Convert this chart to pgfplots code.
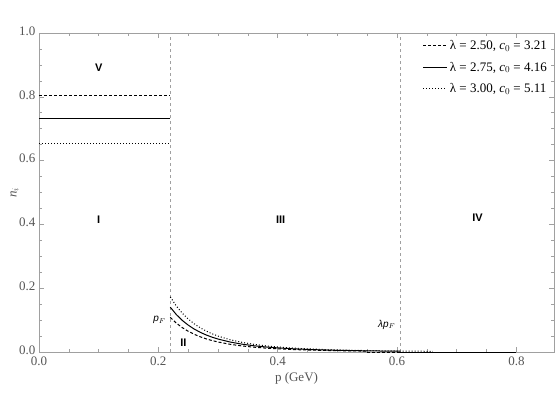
\documentclass[border=0pt]{standalone}
\usepackage{pgfplots}
\pgfplotsset{compat=1.18}
\usepackage{fontspec}
\setmainfont{Liberation Serif}
\newfontfamily\sfreg{Liberation Sans}
\definecolor{framegray}{HTML}{A0A0A0}
\definecolor{labgray}{HTML}{555555}
\begin{document}
\begin{tikzpicture}
\path[use as bounding box] (-39pt,-65pt) rectangle (517pt,352pt);
\begin{axis}[
  at={(0pt,0pt)}, anchor=south west,
  width=515pt, height=319pt, scale only axis,
  xmin=0, xmax=0.863, ymin=0, ymax=1,
  xtick={0,0.2,0.4,0.6,0.8}, ytick={0,0.2,0.4,0.6,0.8,1.0},
  minor tick num=3,
  tick align=inside,
  major tick length=5pt, minor tick length=3pt,
  every tick/.style={framegray, line width=0.5pt},
  axis line style={framegray, line width=0.7pt},
  xticklabel style={yshift=-1.5pt, /pgf/number format/.cd, fixed, fixed zerofill, precision=1},
  yticklabel style={yshift=2pt, /pgf/number format/.cd, fixed, fixed zerofill, precision=1},
  /pgf/number format/assume math mode=true,
  ticklabel style={font=\fontsize{13}{15}\selectfont, text=labgray},
  xlabel={p (GeV)}, ylabel={\textit{n}$_i$},
  xlabel style={font=\fontsize{13}{15}\selectfont, text=labgray, yshift=0pt},
  ylabel style={font=\fontsize{13}{15}\selectfont, text=labgray, yshift=-6pt},
  legend style={at={(1,1)}, anchor=north east, draw=none, fill=none,
    font=\fontsize{13}{15}\selectfont, row sep=7pt, xshift=-2pt, yshift=-3pt},
  legend cell align=left,
  legend image code/.code={\draw[#1] (0pt,0pt) -- (24pt,0pt);},
]
% vertical reference lines
\addplot[framegray, dashed, line width=0.6pt, forget plot] coordinates {(0.22,0) (0.22,1)};
\addplot[framegray, dashed, line width=0.6pt, forget plot] coordinates {(0.605,0) (0.605,1)};

% high-momentum tails (legend order)
\addplot[black, dashed, dash pattern=on 3pt off 2pt, line width=1pt] coordinates {
(0.22,0.1084)(0.23,0.0908)(0.24,0.0765)(0.25,0.0650)(0.26,0.0556)(0.27,0.0478)
(0.28,0.0413)(0.29,0.0359)(0.30,0.0314)(0.32,0.0242)(0.34,0.0190)(0.36,0.0151)
(0.38,0.0122)(0.40,0.0099)(0.43,0.0074)(0.46,0.0057)(0.50,0.0041)(0.55,0.0028)
};
\addlegendentry{λ = 2.50, \textit{c}$_0$ = 3.21}
\addplot[black, solid, line width=1pt] coordinates {
(0.22,0.1405)(0.23,0.1176)(0.24,0.0992)(0.25,0.0843)(0.26,0.0720)(0.27,0.0619)
(0.28,0.0535)(0.29,0.0465)(0.30,0.0406)(0.32,0.0314)(0.34,0.0246)(0.36,0.0196)
(0.38,0.0158)(0.40,0.0129)(0.43,0.0096)(0.46,0.0074)(0.50,0.0053)(0.55,0.0036)
(0.60,0.0025)(0.605,0.0025)
};
\addlegendentry{λ = 2.75, \textit{c}$_0$ = 4.16}
\addplot[black, dotted, line width=1pt] coordinates {
(0.22,0.1726)(0.23,0.1445)(0.24,0.1219)(0.25,0.1035)(0.26,0.0885)(0.27,0.0761)
(0.28,0.0658)(0.29,0.0572)(0.30,0.0499)(0.32,0.0386)(0.34,0.0303)(0.36,0.0241)
(0.38,0.0194)(0.40,0.0158)(0.43,0.0118)(0.46,0.0090)(0.50,0.0065)(0.55,0.0044)
(0.60,0.0031)(0.66,0.0021)
};
\addlegendentry{λ = 3.00, \textit{c}$_0$ = 5.11}

% zero beyond cutoff
\addplot[black, dashed, dash pattern=on 3pt off 2pt, line width=1pt, forget plot] coordinates {(0.55,0) (0.8,0)};
\addplot[black, solid, line width=1pt, forget plot] coordinates {(0.605,0) (0.8,0)};
\addplot[black, dotted, line width=1pt, forget plot] coordinates {(0.66,0) (0.8,0)};

% low-momentum plateaus
\addplot[black, dashed, dash pattern=on 3pt off 2pt, line width=1pt, forget plot] coordinates {(0,0.8049) (0.22,0.8049)};
\addplot[black, solid, line width=1pt, forget plot] coordinates {(0,0.7318) (0.22,0.7318)};
\addplot[black, dotted, line width=1pt, forget plot] coordinates {(0,0.6548) (0.22,0.6548)};

% region labels
\node[font=\sfreg\bfseries\fontsize{11}{13}\selectfont] at (axis cs:0.1,0.89) {V};
\node[font=\sfreg\bfseries\fontsize{11}{13}\selectfont] at (axis cs:0.1,0.415) {I};
\node[font=\sfreg\bfseries\fontsize{11}{13}\selectfont] at (axis cs:0.405,0.415) {III};
\node[font=\sfreg\bfseries\fontsize{11}{13}\selectfont] at (axis cs:0.735,0.42) {IV};
\node[font=\sfreg\bfseries\fontsize{11}{13}\selectfont] at (axis cs:0.242,0.03) {II};
\node[font=\sfreg\itshape\fontsize{10}{12}\selectfont, anchor=east] at (axis cs:0.218,0.1) {p$_F$};
\node[font=\sfreg\itshape\fontsize{10}{12}\selectfont, anchor=east] at (axis cs:0.603,0.085) {λp$_F$};
\end{axis}
\end{tikzpicture}
\end{document}
